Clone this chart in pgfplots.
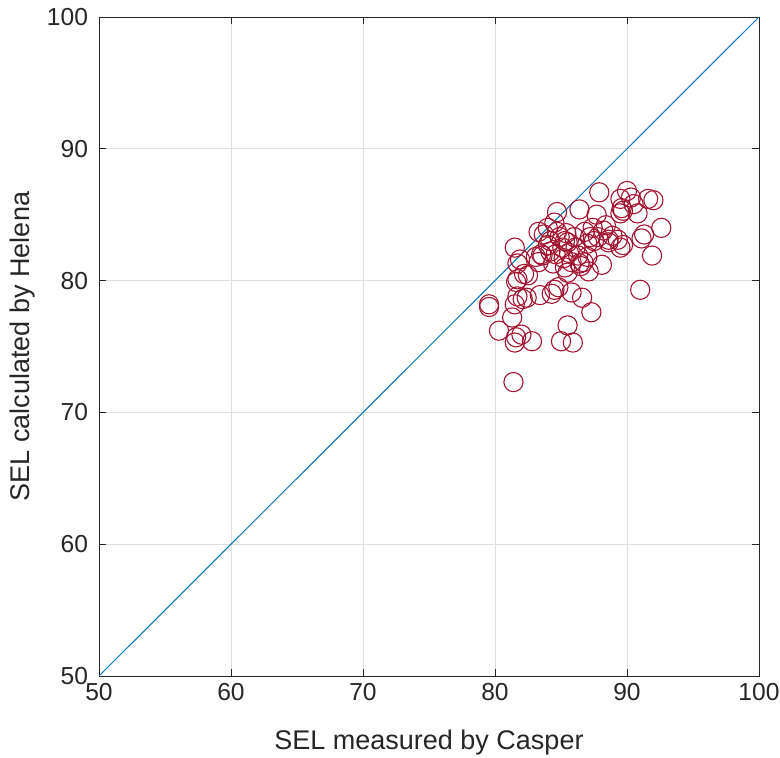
\documentclass[border=0pt]{standalone}
\usepackage{pgfplots}
\pgfplotsset{compat=1.18}
\usepackage{fontspec}
\setmainfont{Liberation Sans}
\definecolor{mred}{RGB}{162,20,47}
\definecolor{mblue}{RGB}{0,114,189}
\definecolor{mtext}{RGB}{38,38,38}
\definecolor{mgrid}{RGB}{223,223,223}
\begin{document}
\begin{tikzpicture}
\useasboundingbox (-49.5bp,-41bp) rectangle (340.5bp,338bp);
\begin{axis}[
  scale only axis, width=330bp, height=329.5bp,
  at={(0,0)}, anchor=south west,
  xmin=50, xmax=100, ymin=50, ymax=100,
  xtick={50,60,...,100}, ytick={50,60,...,100},
  grid=major, major grid style={mgrid, line width=0.4bp},
  axis line style={mtext, line width=0.4bp},
  tick style={mtext, line width=0.4bp},
  tick align=inside, major tick length=3.5bp,
  xtick pos=both, ytick pos=both,
  ticklabel style={font=\fontsize{12.3bp}{14bp}\selectfont, text=mtext},
  yticklabel style={xshift=-2bp},
  /pgf/number format/assume math mode=true,
  xlabel={SEL measured by Casper}, ylabel={SEL calculated by Helena},
  label style={font=\fontsize{13.5bp}{16bp}\selectfont, text=mtext},
  xlabel style={yshift=-8bp},
  ylabel style={yshift=-1bp},
]
\addplot[mblue, line width=0.5bp] coordinates {(50,50) (100,100)};
\addplot[only marks, mark=o, mark size=4.8bp, mred, mark options={line width=0.55bp}] coordinates {
(79.55,78.2) (79.55,78.0) (80.3,76.2) (81.4,72.3) (81.5,75.3) (81.6,75.7) (82.0,75.9) (82.8,75.4)
(81.3,77.2) (81.5,78.2) (81.7,78.8) (81.5,82.5) (81.7,81.3) (81.9,81.6) (81.7,80.1) (81.6,79.9)
(82.2,80.5) (82.1,78.6) (82.4,78.7) (83.3,81.4) (83.3,83.7) (83.6,81.9) (83.7,83.5) (83.4,78.9)
(84.0,84.0) (84.2,83.0) (84.2,82.2) (84.5,84.4) (84.7,85.2) (84.4,81.3) (84.3,79.0) (84.5,79.3)
(84.8,79.5) (84.7,83.7) (84.9,83.3) (85.1,82.5) (85.2,81.7) (85.3,81.0) (85.4,83.6) (85.5,82.9)
(85.6,82.1) (85.5,80.6) (85.5,76.6) (85.0,75.4) (85.9,75.3) (85.8,79.1) (85.8,81.4) (86.1,82.5)
(86.3,81.9) (86.4,81.3) (86.4,85.4) (86.6,78.7) (86.7,81.4) (86.8,83.7) (87.0,82.8) (87.1,80.7)
(87.2,83.3) (87.3,77.6) (87.0,81.8) (87.4,84.0) (87.7,85.0) (87.9,86.7) (87.8,83.3) (88.1,81.2)
(88.2,83.8) (88.4,84.2) (88.6,83.1) (88.6,82.9) (88.9,83.4) (89.3,83.1) (89.5,82.5) (89.7,82.7)
(89.5,85.1) (89.6,85.5) (89.5,86.2) (89.7,85.3) (90.0,86.8) (90.3,86.3) (90.5,85.8) (90.8,85.1)
(91.0,79.3) (91.1,83.2) (91.3,83.5) (91.6,86.2) (91.9,81.9) (92.0,86.1) (92.6,84.0) (84.0,82.7)
(83.1,81.8) (86.5,81.1) (85.3,83.0) (84.6,82.0) (86.0,83.3) (87.5,83.0) (82.5,80.4) (83.5,82.0)
};
\end{axis}
\end{tikzpicture}
\end{document}
